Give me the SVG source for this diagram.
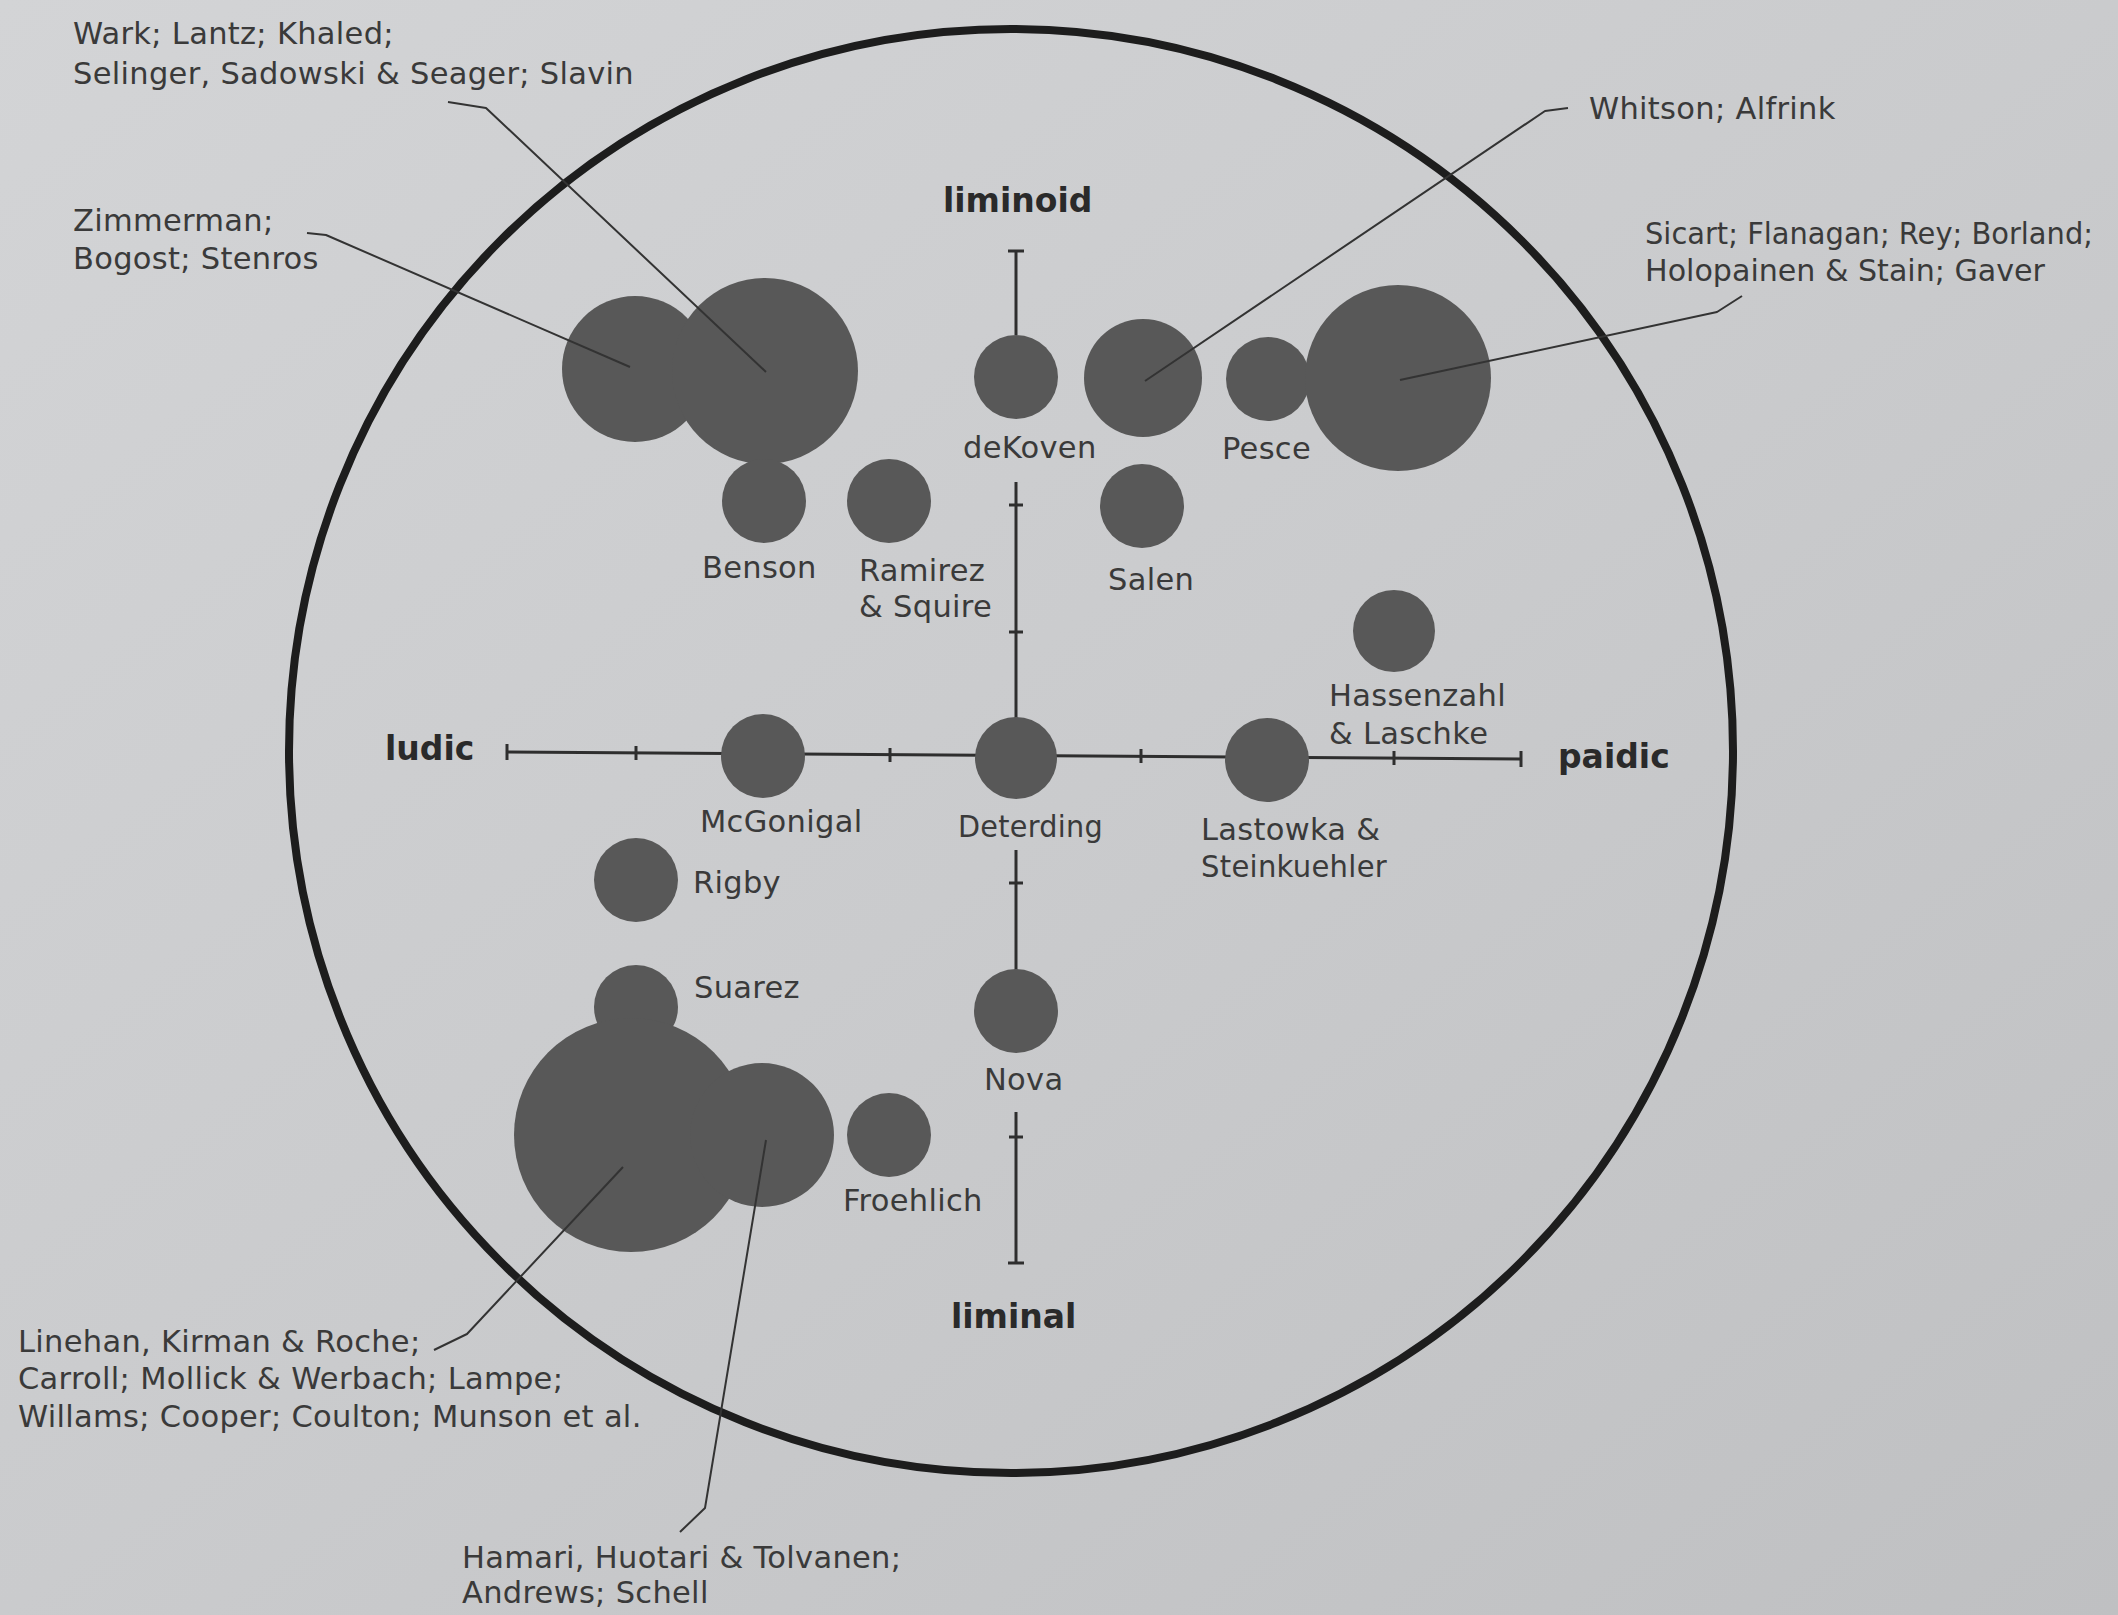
<svg xmlns="http://www.w3.org/2000/svg" width="2118" height="1615" viewBox="0 0 2118 1615">
<defs>
<linearGradient id="bg" x1="0" y1="0" x2="1" y2="1">
<stop offset="0" stop-color="#d3d4d6"/>
<stop offset="0.5" stop-color="#cacbcd"/>
<stop offset="1" stop-color="#bfc0c2"/>
</linearGradient>
</defs>
<style>
.dot{fill:#585858;}
.lbl{font-family:"DejaVu Sans",sans-serif;font-size:30.5px;letter-spacing:0.3px;fill:#3a3a3a;}
.nls{letter-spacing:0;}
.ax{font-family:"DejaVu Sans",sans-serif;font-size:33px;font-weight:bold;fill:#2a2a2a;}
.axis{stroke:#2e2e2e;stroke-width:3;fill:none;}
.lead{stroke:#333;stroke-width:2;fill:none;stroke-linejoin:round;}
</style>
<rect x="0" y="0" width="2118" height="1615" fill="url(#bg)"/>
<circle id="frame" cx="1011" cy="751" r="722" fill="none" stroke="#1d1d1d" stroke-width="8"/>

<g id="axes">
<line class="axis" x1="507" y1="752" x2="1521" y2="759"/>
<line class="axis" x1="507" y1="744" x2="507" y2="760"/>
<line class="axis" x1="1521" y1="751" x2="1521" y2="767"/>
<line class="axis" x1="636" y1="746" x2="636" y2="760"/>
<line class="axis" x1="890" y1="748" x2="890" y2="762"/>
<line class="axis" x1="1141" y1="749" x2="1141" y2="763"/>
<line class="axis" x1="1394" y1="751" x2="1394" y2="765"/>
<line class="axis" x1="1016" y1="251" x2="1016" y2="335"/>
<line class="axis" x1="1008" y1="251" x2="1024" y2="251"/>
<line class="axis" x1="1016" y1="482" x2="1016" y2="718"/>
<line class="axis" x1="1009" y1="505" x2="1023" y2="505"/>
<line class="axis" x1="1009" y1="632" x2="1023" y2="632"/>
<line class="axis" x1="1016" y1="850" x2="1016" y2="970"/>
<line class="axis" x1="1009" y1="883" x2="1023" y2="883"/>
<line class="axis" x1="1016" y1="1112" x2="1016" y2="1263"/>
<line class="axis" x1="1009" y1="1137" x2="1023" y2="1137"/>
<line class="axis" x1="1008" y1="1263" x2="1024" y2="1263"/>
<text class="ax" x="943" y="212">liminoid</text>
<text class="ax" x="951" y="1328">liminal</text>
<text class="ax" x="385" y="760">ludic</text>
<text class="ax" x="1558" y="768">paidic</text>
</g>

<g id="zimmerman"><circle class="dot" cx="635" cy="369" r="73"/>
<text class="lbl" x="73" y="231">Zimmerman;</text><text class="lbl" x="73" y="269">Bogost; Stenros</text></g>
<g id="wark"><circle class="dot" cx="765" cy="371" r="93"/>
<text class="lbl" x="73" y="44">Wark; Lantz; Khaled;</text><text class="lbl" x="73" y="84">Selinger, Sadowski &amp; Seager; Slavin</text></g>
<g id="benson"><circle class="dot" cx="764" cy="501" r="42"/><text class="lbl" x="702" y="578">Benson</text></g>
<g id="ramirez"><circle class="dot" cx="889" cy="501" r="42"/><text class="lbl" x="859" y="581">Ramirez</text><text class="lbl" x="859" y="617">&amp; Squire</text></g>
<g id="dekoven"><circle class="dot" cx="1016" cy="377" r="42"/><text class="lbl" x="963" y="458">deKoven</text></g>
<g id="whitson"><circle class="dot" cx="1143" cy="378" r="59"/><text class="lbl" x="1589" y="119">Whitson; Alfrink</text></g>
<g id="pesce"><circle class="dot" cx="1268" cy="379" r="42"/><text class="lbl" x="1222" y="459">Pesce</text></g>
<g id="sicart"><circle class="dot" cx="1398" cy="378" r="93"/>
<text class="lbl nls" x="1645" y="244" textLength="448" lengthAdjust="spacingAndGlyphs">Sicart; Flanagan; Rey; Borland;</text><text class="lbl nls" x="1645" y="281" textLength="400" lengthAdjust="spacingAndGlyphs">Holopainen &amp; Stain; Gaver</text></g>
<g id="salen"><circle class="dot" cx="1142" cy="506" r="42"/><text class="lbl" x="1108" y="590">Salen</text></g>
<g id="hassenzahl"><circle class="dot" cx="1394" cy="631" r="41"/><text class="lbl" x="1329" y="706">Hassenzahl</text><text class="lbl" x="1329" y="744">&amp; Laschke</text></g>
<g id="mcgonigal"><circle class="dot" cx="763" cy="756" r="42"/><text class="lbl" x="700" y="832">McGonigal</text></g>
<g id="deterding"><circle class="dot" cx="1016" cy="758" r="41"/><text class="lbl" x="958" y="837" textLength="145" lengthAdjust="spacingAndGlyphs">Deterding</text></g>
<g id="lastowka"><circle class="dot" cx="1267" cy="760" r="42"/><text class="lbl" x="1201" y="840">Lastowka &amp;</text><text class="lbl" x="1201" y="877" textLength="186" lengthAdjust="spacingAndGlyphs">Steinkuehler</text></g>
<g id="rigby"><circle class="dot" cx="636" cy="880" r="42"/><text class="lbl" x="693" y="893">Rigby</text></g>
<g id="suarez"><circle class="dot" cx="636" cy="1007" r="42"/><text class="lbl" x="694" y="998">Suarez</text></g>
<g id="linehan"><circle class="dot" cx="631" cy="1135" r="117"/>
<text class="lbl" x="18" y="1352">Linehan, Kirman &amp; Roche;</text><text class="lbl" x="18" y="1389">Carroll; Mollick &amp; Werbach; Lampe;</text><text class="lbl" x="18" y="1427">Willams; Cooper; Coulton; Munson et al.</text></g>
<g id="hamari"><circle class="dot" cx="762" cy="1135" r="72"/>
<text class="lbl" x="462" y="1568">Hamari, Huotari &amp; Tolvanen;</text><text class="lbl" x="462" y="1603">Andrews; Schell</text></g>
<g id="froehlich"><circle class="dot" cx="889" cy="1135" r="42"/><text class="lbl" x="843" y="1211">Froehlich</text></g>
<g id="nova"><circle class="dot" cx="1016" cy="1011" r="42"/><text class="lbl" x="984" y="1090">Nova</text></g>

<g id="connectors">
<polyline class="lead" points="448,102 486,108 766,372"/>
<polyline class="lead" points="307,233 326,235 630,367"/>
<polyline class="lead" points="1568,108 1545,111 1145,381"/>
<polyline class="lead" points="1742,296 1717,312 1400,380"/>
<polyline class="lead" points="434,1350 467,1334 623,1167"/>
<polyline class="lead" points="680,1532 705,1508 766,1140"/>
</g>
</svg>
